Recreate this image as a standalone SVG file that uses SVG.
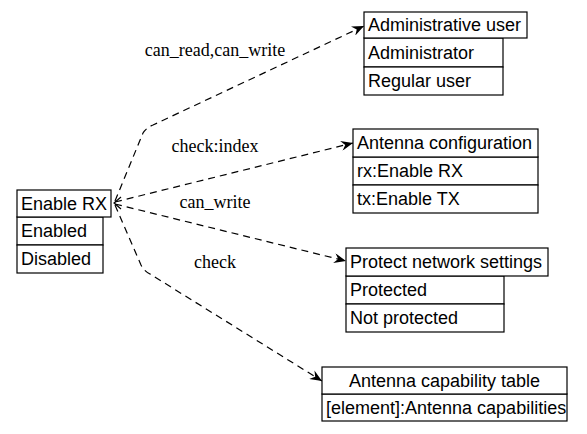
<svg xmlns="http://www.w3.org/2000/svg" width="587" height="434" viewBox="0 0 587 434">
<style>
.box{fill:#fff;stroke:#000;stroke-width:1.2}
.t{font-family:"Liberation Sans",Arial,sans-serif;font-size:18px;fill:#000}
.c{text-anchor:middle}
.lbl{font-family:"Liberation Serif","Times New Roman",serif;font-size:18px;fill:#000;text-anchor:middle}
.e{fill:none;stroke:#000;stroke-width:1.2;stroke-dasharray:7,5}
</style>
<defs>
<marker id="ah" viewBox="0 0 12 10" refX="12" refY="5" markerWidth="12" markerHeight="10" markerUnits="userSpaceOnUse" orient="auto">
<path d="M0,0 L12,5 L0,10 L4,5 Z" fill="#000"/>
</marker>
</defs>
<rect width="587" height="434" fill="#fff"/>
<g id="connectors">
<path class="e" d="M115,201 L143,133 Q146,128 153,125 L364,26" marker-end="url(#ah)"/>
<path class="e" d="M115,202 L353,143" marker-end="url(#ah)"/>
<path class="e" d="M115,204 L346,261" marker-end="url(#ah)"/>
<path class="e" d="M115,205 L141,265 Q144,271 150,274 L322,381" marker-end="url(#ah)"/>
<path d="M121,197 L114,203 L121,209" fill="none" stroke="#000" stroke-width="1.2"/>
<text class="lbl" x="215" y="56">can_read,can_write</text>
<text class="lbl" x="215" y="152">check:index</text>
<text class="lbl" x="215" y="208">can_write</text>
<text class="lbl" x="215" y="268">check</text>
</g>
<g id="enable_rx">
<rect class="box" x="17" y="217" width="86" height="28"/>
<rect class="box" x="17" y="245" width="86" height="28"/>
<rect class="box" x="17" y="190" width="94" height="27"/>
<text class="t" x="21" y="210">Enable RX</text>
<text class="t" x="21" y="237">Enabled</text>
<text class="t" x="21" y="265">Disabled</text>
</g>
<g id="administrative_user">
<rect class="box" x="364" y="38" width="139" height="29"/>
<rect class="box" x="364" y="67" width="139" height="28"/>
<rect class="box" x="364" y="12" width="163" height="26"/>
<text class="t" x="368" y="31">Administrative user</text>
<text class="t" x="368" y="59">Administrator</text>
<text class="t" x="368" y="87">Regular user</text>
</g>
<g id="antenna_configuration">
<rect class="box" x="353" y="157" width="185" height="28"/>
<rect class="box" x="353" y="185" width="185" height="28"/>
<rect class="box" x="353" y="129" width="185" height="28"/>
<text class="t" x="357" y="149">Antenna configuration</text>
<text class="t" x="357" y="177">rx:Enable RX</text>
<text class="t" x="357" y="205">tx:Enable TX</text>
</g>
<g id="protect_network_settings">
<rect class="box" x="346" y="276" width="158" height="28"/>
<rect class="box" x="346" y="304" width="158" height="28"/>
<rect class="box" x="346" y="248" width="202" height="28"/>
<text class="t" x="350" y="268">Protect network settings</text>
<text class="t" x="350" y="296">Protected</text>
<text class="t" x="350" y="324">Not protected</text>
</g>
<g id="antenna_capability_table">
<rect class="box" x="322" y="394" width="245" height="27"/>
<rect class="box" x="322" y="367" width="245" height="27"/>
<text class="t c" x="444.5" y="387">Antenna capability table</text>
<text class="t" x="326" y="414">[element]:Antenna capabilities</text>
</g>
</svg>
